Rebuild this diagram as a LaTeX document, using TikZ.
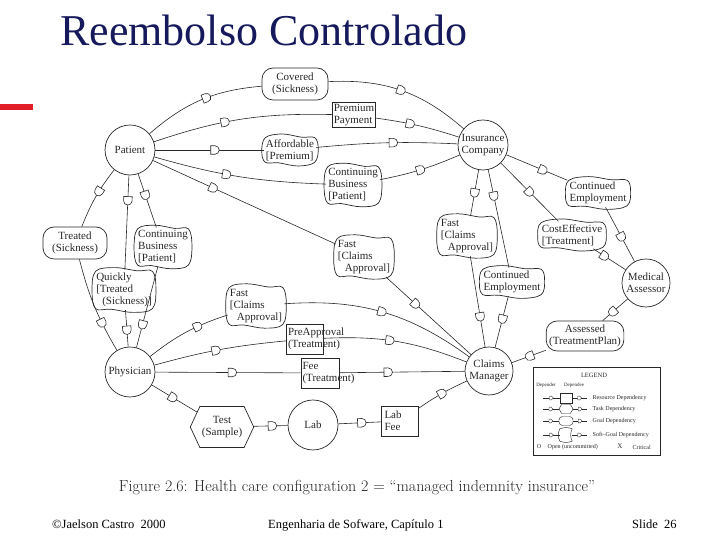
\documentclass[tikz,border=0pt]{standalone}
\usepackage{fontspec}
\setmainfont{Liberation Serif}
\newfontfamily\lmfont{Latin Modern Roman}
\usetikzlibrary{shapes.misc,shapes.symbols,calc}
\definecolor{titleblue}{RGB}{22,26,92}
\definecolor{barred}{RGB}{226,30,40}
\definecolor{ink}{RGB}{40,40,40}
\tikzset{
  lbl/.style={font=\fontsize{11}{12}\selectfont, text=ink},
  actor/.style={circle, draw=ink, line width=0.7pt, minimum size=50pt, inner sep=0pt, lbl, align=center},
  goal/.style={rectangle, rounded corners=11pt, draw=ink, line width=0.7pt, inner xsep=5pt, inner ysep=4pt, lbl, align=center},
  resource/.style={rectangle, draw=ink, line width=0.7pt, inner sep=1.5pt, lbl, align=left},
  softgoal/.style={rectangle, inner xsep=2pt, inner ysep=3pt, lbl, align=left},
  sgline/.style={draw=ink, line width=0.7pt},
  task/.style={signal, signal to=west and east, signal pointer angle=130, draw=ink, line width=0.7pt, inner sep=2pt, lbl, align=center},
  dep/.style={draw=ink, line width=0.6pt},
  dm/.style={rounded rectangle, rounded rectangle west arc=none, draw=ink, fill=white, line width=0.6pt, minimum width=7pt, minimum height=8.5pt, inner sep=0pt, sloped, allow upside down},
  dms/.style={rounded rectangle, rounded rectangle west arc=none, draw=ink, fill=white, line width=0.35pt, minimum width=3.2pt, minimum height=3.8pt, inner sep=0pt, sloped, allow upside down},
  legtxt/.style={font=\fontsize{6}{6.5}\selectfont, text=ink, inner sep=0.5pt},
  legsym/.style={draw=ink, line width=0.45pt, inner sep=0pt},
}
\newcommand\sgnode[3]{%
  \node[softgoal] (#1) at (#2) {#3};
  \draw[sgline] plot[smooth cycle, tension=0.6] coordinates {
    ($(#1.north west)+(1.5,-1.5)$)
    ($(#1.north west)!0.35!(#1.north east)+(0,2.2)$)
    ($(#1.north west)!0.72!(#1.north east)+(0,-1)$)
    ($(#1.north east)+(-1.5,-1.5)$)
    ($(#1.east)+(2,1.5)$)
    ($(#1.south east)+(-1.5,1.5)$)
    ($(#1.south west)!0.65!(#1.south east)+(0,-2.2)$)
    ($(#1.south west)!0.28!(#1.south east)+(0,1)$)
    ($(#1.south west)+(1.5,1.5)$)
    ($(#1.west)+(-2,-1.5)$)
  };
}
\begin{document}
\begin{tikzpicture}[x=1pt,y=1pt]
\useasboundingbox (0,0) rectangle (720,540);
\fill[white] (0,0) rectangle (720,540);

% title and bar
\node[anchor=base west, inner sep=0pt, font=\fontsize{44}{48}\selectfont, text=titleblue] (title) at (60,494) {Reembolso Controlado};
\fill[barred] (0,430) rectangle (33,436);

% actors
\node[actor] (pat) at (130,390) {Patient};
\node[actor] (ins) at (483,395) {Insurance\\Company};
\node[actor, minimum size=48pt] (med) at (646,257) {Medical\\Assessor};
\node[actor] (phy) at (130,168) {Physician};
\node[actor, minimum size=48pt] (cm) at (489,169) {Claims\\Manager};
\node[actor] (lab) at (313,115) {Lab};

% dependums
\node[goal, minimum width=66pt, minimum height=32pt] (cov) at (295,456) {Covered\\(Sickness)};
\node[resource] (prem) at (354,425) {Premium\\Payment};
\sgnode{aff}{290,390}{Affordable\\{[}Premium]}
\sgnode{cbt}{353,355}{Continuing\\Business\\{[}Patient]}
\sgnode{fcc}{364,283}{Fast\\{[}Claims\\\hspace*{7pt}Approval]}
\sgnode{fcr}{467,304}{Fast\\{[}Claims\\\hspace*{7pt}Approval]}
\sgnode{cem}{512,258}{Continued\\Employment}
\sgnode{cer}{598,347}{Continued\\Employment}
\sgnode{cost}{572,305}{CostEffective\\{[}Treatment]}
\node[goal, minimum width=64pt, minimum height=32pt] (treat) at (75,297) {Treated\\(Sickness)};
\sgnode{cbl}{163,293}{Continuing\\Business\\{[}Patient]}
\sgnode{quick}{124,250}{Quickly\\{[}Treated\\\hspace*{6pt}(Sickness)]}
\sgnode{fcl}{256,234}{Fast\\{[}Claims\\\hspace*{7pt}Approval]}
\node[resource, text width=34pt, minimum height=30pt] (pre) at (305,201) {PreApproval\\(Treatment)};
\node[resource, text width=35pt, minimum height=30pt] (fee) at (320,167) {Fee\\(Treatment)};
\node[resource, text width=31pt, minimum height=30pt, inner xsep=3pt] (labfee) at (400,119) {Lab\\Fee};
\node[task, minimum width=62pt, minimum height=41pt] (test) at (222,113) {Test\\(Sample)};
\node[goal, minimum height=30pt, inner xsep=3pt] (ass) at (585,204) {Assessed\\(TreatmentPlan)};

% dependencies
\draw[dep] (pat) to[bend left=18] node[dm,pos=.55]{} (cov);
\draw[dep] (cov) to[bend left=22] node[dm,pos=.5]{} (ins);
\draw[dep] (pat) to[bend left=10] node[dm,pos=.4]{} (prem);
\draw[dep] (prem) to[bend left=5] node[dm,pos=.4]{} (ins);
\draw[dep] (pat) to node[dm,pos=.55]{} (aff);
\draw[dep] (aff) to[bend left=4] node[dm,pos=.55]{} (ins);
\draw[dep] (pat) to[bend right=7] node[dm,pos=.42]{} (cbt);
\draw[dep] (cbt) to[bend right=6] node[dm,pos=.5]{} (ins);
\draw[dep] (pat) to node[dm,pos=.33]{} (fcc);
\draw[dep] (fcc) to node[dm,pos=.35]{} (cm);
\draw[dep] (pat) to[bend right=8] node[dm,pos=.4]{} (treat);
\draw[dep] (treat) to[bend right=8] node[dm,pos=.7]{} (phy);
\draw[dep] (pat) to node[dm,pos=.27]{} (quick);
\draw[dep] (quick) to node[dm,pos=.55]{} (phy);
\draw[dep] (pat) to node[dm,pos=.4]{} (cbl);
\draw[dep] (cbl) to node[dm,pos=.72]{} (phy);
\draw[dep] (phy) to[bend left=10] node[dm,pos=.65]{} (fcl);
\draw[dep] (fcl) to[bend left=20] node[dm,pos=.5]{} (cm);
\draw[dep] (phy) to[bend left=5] node[dm,pos=.47]{} (pre);
\draw[dep] (pre) to[bend left=12] node[dm,pos=.45]{} (cm);
\draw[dep] (phy) to node[dm,pos=.53]{} (fee);
\draw[dep] (fee) to node[dm,pos=.39]{} (cm);
\draw[dep] (phy) to node[dm,pos=.47]{} (test);
\draw[dep] (test) to node[dm,pos=.55]{} (lab);
\draw[dep] (lab) to node[dm,pos=.55]{} (labfee);
\draw[dep] (labfee) to[bend left=5] node[dm,pos=.5]{} (cm);
\draw[dep] (ins) to node[dm,pos=.5]{} (fcr);
\draw[dep] (fcr) to node[dm,pos=.67]{} (cm);
\draw[dep] (ins) to node[dm,pos=.27]{} (cem);
\draw[dep] (cem) to node[dm,pos=.45]{} (cm);
\draw[dep] (ins) to node[dm,pos=.5]{} (cost);
\draw[dep] (cost) to node[dm,pos=.35]{} (med);
\draw[dep] (ins) to node[dm,pos=.6]{} (cer);
\draw[dep] (cer) to node[dm,pos=.55]{} (med);
\draw[dep] (med) to node[dm,pos=.6]{} (ass);
\draw[dep] (ass) to node[dm,pos=.48]{} (cm);

% legend
\node[draw=ink, line width=1pt, minimum width=127pt, minimum height=88pt, inner sep=0pt] (leg) at (596.5,128) {};
\node[legtxt, font=\fontsize{6.5}{7}\selectfont] (legt) at (594,165) {LEGEND};
\node[legtxt, font=\fontsize{5}{5.5}\selectfont] (ldr) at (546,155) {Depender};
\node[legtxt, font=\fontsize{5}{5.5}\selectfont] (lde) at (574,155) {Dependee};
% row 1 resource
\coordinate (r1a) at (543,142); \coordinate (r1b) at (587,142);
\node[legsym, rectangle, minimum width=12pt, minimum height=10pt] (s1) at (566,142) {};
\draw[dep, line width=0.4pt] (r1a) -- node[dms]{} (s1);
\draw[dep, line width=0.4pt] (s1) -- node[dms]{} (r1b);
\node[legtxt, anchor=west] (t1) at (592,142) {Resource Dependency};
% row 2 task
\coordinate (r2a) at (543,131); \coordinate (r2b) at (587,131);
\node[legsym, signal, signal to=west and east, signal pointer angle=120, minimum width=14pt, minimum height=9pt] (s2) at (566,131) {};
\draw[dep, line width=0.4pt] (r2a) -- node[dms]{} (s2);
\draw[dep, line width=0.4pt] (s2) -- node[dms]{} (r2b);
\node[legtxt, anchor=west] (t2) at (592,131) {Task Dependency};
% row 3 goal
\coordinate (r3a) at (543,119); \coordinate (r3b) at (587,119);
\node[legsym, rectangle, rounded corners=3.5pt, minimum width=14pt, minimum height=9pt] (s3) at (566,119) {};
\draw[dep, line width=0.4pt] (r3a) -- node[dms]{} (s3);
\draw[dep, line width=0.4pt] (s3) -- node[dms]{} (r3b);
\node[legtxt, anchor=west] (t3) at (592,119) {Goal Dependency};
% row 4 softgoal
\coordinate (r4a) at (543,105); \coordinate (r4b) at (587,105);
\node[rectangle, inner sep=0pt, minimum width=12pt, minimum height=12pt] (s4) at (566,105) {};
\draw[ink, line width=0.45pt] (s4.south west) to[bend left=25] (s4.north west) to[bend left=20] (s4.north east) to[bend right=25] (s4.south east) to[bend left=20] cycle;
\draw[dep, line width=0.4pt] (r4a) -- node[dms]{} (s4);
\draw[dep, line width=0.4pt] (s4) -- node[dms]{} (r4b);
\node[legtxt, anchor=west] (t4) at (592,105) {Soft--Goal Dependency};
% row 5
\node[legtxt, font=\fontsize{6}{6}\selectfont] (o5) at (539,93) {O};
\node[legtxt, anchor=west] (t5) at (547,93) {Open (uncommitted)};
\node[legtxt, font=\fontsize{7}{7}\selectfont] (x5) at (620,94) {X};
\node[legtxt, anchor=west] (t6) at (632,93) {Critical};

% caption
\node[font=\lmfont\fontsize{16}{18}\selectfont, text=black!85] (cap) at (357,52) {Figure 2.6: Health care configuration 2 = “managed indemnity insurance”};

% footer
\node[anchor=base west, inner sep=0pt, font=\fontsize{12.5}{14}\selectfont] (f1) at (52,11) {©Jaelson Castro\ \ 2000};
\node[anchor=base west, inner sep=0pt, font=\fontsize{12.5}{14}\selectfont] (f2) at (268,11) {Engenharia de Sofware, Capítulo 1};
\node[anchor=base west, inner sep=0pt, font=\fontsize{12.5}{14}\selectfont] (f3) at (632,11) {Slide\ \ 26};
\end{tikzpicture}
\end{document}
